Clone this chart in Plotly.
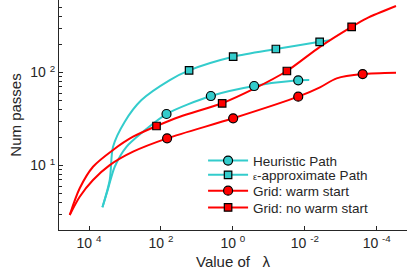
import plotly.graph_objects as go

CYAN = "#33CCCC"
RED = "#FF0000"
INK = "#262626"
FONT = "Liberation Sans, Arial, sans-serif"

# ---- data (lambda, number of passes) ----
heur_x = [4236, 3020, 1928, 910, 314, 70.1, 4.10, 0.256, 0.01524, 0.00753]
heur_y = [3.56, 5.46, 9.7, 15.9, 23.1, 35.8, 55.9, 71.6, 82.4, 83]
heur_mx = [70.1, 4.10, 0.256, 0.01524]
heur_my = [35.8, 55.9, 71.6, 82.4]

eps_x = [4236, 2655, 2148, 1014, 348, 56.7, 16.5, 0.982, 0.0637, 0.00386, 0.0020]
eps_y = [3.56, 6.98, 15.9, 29.6, 50.6, 83, 105.6, 148, 179, 214, 223]
eps_mx = [16.5, 0.982, 0.0637, 0.00386]
eps_my = [105.6, 148, 179, 214]

warm_x = [34430, 18160, 7745, 2655, 596, 67.5, 0.982, 0.01524, 0.00379, 0.0013, 0.000246, 0.0000291]
warm_y = [2.94, 4.62, 6.98, 10.1, 14.1, 19.6, 32.2, 55, 69.3, 86.6, 96.3, 99.5]
warm_mx = [67.5, 0.982, 0.01524, 0.000246]
warm_my = [19.6, 32.2, 55, 96.3]

cold_x = [34430, 18160, 7745, 2148, 596, 133, 29.9, 1.986, 0.256, 0.0315, 0.00379, 0.000498, 0.00019, 0.0000291]
cold_y = [2.94, 5.69, 9.7, 14.7, 20.4, 26.6, 33.5, 46.7, 67, 103.8, 189, 310, 383, 519]
cold_mx = [133, 1.986, 0.0315, 0.000498]
cold_my = [26.6, 46.7, 103.8, 310]

x_tickvals = [1e4, 1e2, 1, 1e-2, 1e-4]
x_ticktext = ["10 <sup>4</sup>", "10 <sup>2</sup>", "10 <sup>0</sup>", "10 <sup>-2</sup>", "10 <sup>-4</sup>"]
y_tickvals = [10, 100]
y_ticktext = ["10 <sup>1</sup>", "10 <sup>2</sup>"]

series = [
    ("Heuristic Path", heur_x, heur_y, heur_mx, heur_my, CYAN, "circle", 9, "legend"),
    ("<span style='font-size:9px'>\u03b5</span>-approximate Path", eps_x, eps_y, eps_mx, eps_my, CYAN, "square", 7.5, "legend2"),
    ("Grid: warm start", warm_x, warm_y, warm_mx, warm_my, RED, "circle", 9, "legend3"),
    ("Grid: no warm start", cold_x, cold_y, cold_mx, cold_my, RED, "square", 7.5, "legend4"),
]

fig = go.Figure()
for name, lx, ly, mx, my, col, sym, size, lg in series:
    fig.add_trace(go.Scatter(x=lx, y=ly, mode="lines", line=dict(color=col, width=2, shape="spline", smoothing=0.8),
                             showlegend=False, hoverinfo="skip"))
for name, lx, ly, mx, my, col, sym, size, lg in series:
    fig.add_trace(go.Scatter(x=mx, y=my, mode="markers",
                             marker=dict(symbol=sym, size=size, color=col, line=dict(color="black", width=1.2)),
                             showlegend=False, cliponaxis=False))
for name, lx, ly, mx, my, col, sym, size, lg in series:
    fig.add_trace(go.Scatter(x=[None], y=[None], mode="lines+markers", name=name, legend=lg,
                             line=dict(color=col, width=2),
                             marker=dict(symbol=sym, size=size, color=col, line=dict(color="black", width=1.2))))

leg_y = [0.301, 0.239, 0.170, 0.097]
leg_common = dict(x=0.414, xanchor="left", yanchor="middle", bgcolor="rgba(0,0,0,0)",
                  font=dict(family=FONT, size=13.5, color=INK), itemwidth=40, borderwidth=0)

minor_vals = [d * 10 ** k for k in range(0, 3) for d in range(2, 10)]

fig.update_layout(
    width=407, height=278,
    margin=dict(l=59, r=0, t=0, b=48),
    paper_bgcolor="white", plot_bgcolor="white",
    font=dict(family=FONT, color=INK, size=12),
    legend=dict(y=leg_y[0], **leg_common),
    legend2=dict(y=leg_y[1], **leg_common),
    legend3=dict(y=leg_y[2], **leg_common),
    legend4=dict(y=leg_y[3], **leg_common),
    xaxis=dict(type="log", range=[4.835, -4.842], tickmode="array", tickvals=x_tickvals, ticktext=x_ticktext,
               ticks="inside", ticklen=4, tickcolor=INK, showline=True, linecolor=INK, linewidth=1,
               showgrid=False, zeroline=False, tickfont=dict(size=14),
               title=dict(text="Value of\u00a0\u00a0\u00a0\u03bb", font=dict(size=15), standoff=6)),
    yaxis=dict(type="log", range=[0.3065, 2.78], tickmode="array", tickvals=y_tickvals, ticktext=y_ticktext,
               ticks="inside", ticklen=4, tickcolor=INK, showline=True, linecolor=INK, linewidth=1,
               showgrid=False, zeroline=False, tickfont=dict(size=14),
               minor=dict(tickmode="array", tickvals=minor_vals, ticks="inside", ticklen=2.5, tickcolor=INK, showgrid=False),
               title=dict(text="Num passes", font=dict(size=15), standoff=5)),
)

fig.write_html("out.html", config={"displayModeBar": False},
               post_script="document.body.style.margin='0';document.body.style.overflow='hidden';")
